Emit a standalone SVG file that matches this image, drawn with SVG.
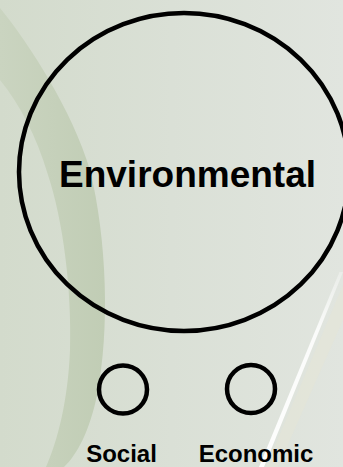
<svg xmlns="http://www.w3.org/2000/svg" width="343" height="467" viewBox="0 0 343 467">
  <defs>
    <linearGradient id="bg" x1="0" y1="0" x2="1" y2="0">
      <stop offset="0" stop-color="#d3dbcc"/>
      <stop offset="0.5" stop-color="#dae0d6"/>
      <stop offset="1" stop-color="#e1e5df"/>
    </linearGradient>
    <linearGradient id="band" x1="0" y1="0" x2="1" y2="0">
      <stop offset="0" stop-color="#cad4c0"/>
      <stop offset="1" stop-color="#c1cdb5"/>
    </linearGradient>
    <linearGradient id="streak" x1="0" y1="1" x2="0" y2="0">
      <stop offset="0" stop-color="#ffffff" stop-opacity="0.95"/>
      <stop offset="0.7" stop-color="#ffffff" stop-opacity="0.85"/>
      <stop offset="1" stop-color="#ffffff" stop-opacity="0.3"/>
    </linearGradient>
  </defs>
  <style>
    .ring { fill: none; stroke: #000000; stroke-width: 4.5; }
    .label { font-family: "Liberation Sans", Arial, sans-serif; font-weight: bold; fill: #000000; text-anchor: middle; }
  </style>

  <!-- background -->
  <rect x="0" y="0" width="343" height="467" fill="url(#bg)"/>
  <path d="M0,8 C30,45 72,110 90,170 C107,240 110,330 97,395 C90,430 77,455 64,467 L46,467 C58,440 68,400 70,350 C72,290 63,220 48,175 C36,135 20,105 0,80 Z" fill="url(#band)"/>
  <path d="M343,272 L339.5,272 L259,467 L264,467 Z" fill="url(#streak)"/>
  <path d="M343,285 L266,467 L278,467 L343,320 Z" fill="#e6e5d6" opacity="0.5"/>

  <g id="connectors"></g>

  <g id="environmental">
    <ellipse class="ring" cx="184" cy="172" rx="165" ry="159"/>
    <text class="label" x="187.5" y="187" font-size="37">Environmental</text>
  </g>

  <g id="social">
    <circle class="ring" cx="123" cy="389.5" r="24"/>
    <text class="label" x="121.5" y="462" font-size="24">Social</text>
  </g>

  <g id="economic">
    <circle class="ring" cx="251" cy="389" r="24"/>
    <text class="label" x="256" y="462" font-size="24">Economic</text>
  </g>
</svg>
